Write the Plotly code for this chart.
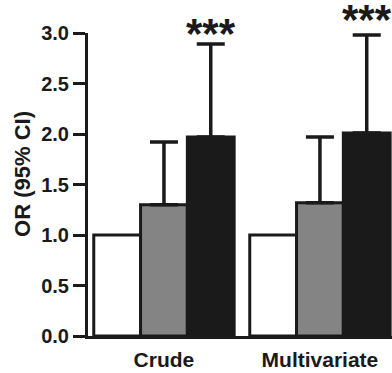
import plotly.graph_objects as go

categories = ["Crude", "Multivariate"]
ref_values = [1.0, 1.0]
mid_values = [1.30, 1.32]
high_values = [1.97, 2.01]
mid_upper = [1.92, 1.97]
high_upper = [2.89, 2.98]
sig_labels = ["***", "***"]
sig_y = [3.0, 3.13]
y_ticks = [0.0, 0.5, 1.0, 1.5, 2.0, 2.5, 3.0]
Y_MAX = 3.0

x_pos = list(range(len(categories)))
LINE = "#1a1a1a"
FONT = "Liberation Sans, Arial, sans-serif"

fig = go.Figure()
fig.add_bar(x=x_pos, y=ref_values, marker=dict(color="white", line=dict(color=LINE, width=3)))
fig.add_bar(x=x_pos, y=mid_values, marker=dict(color="#848484", line=dict(color=LINE, width=3)),
            error_y=dict(type="data", symmetric=False,
                         array=[u - v for u, v in zip(mid_upper, mid_values)],
                         arrayminus=[0] * len(mid_values),
                         color=LINE, thickness=3.5, width=14))
fig.add_bar(x=x_pos, y=high_values, marker=dict(color="#1a1a1a", line=dict(color=LINE, width=3)),
            error_y=dict(type="data", symmetric=False,
                         array=[u - v for u, v in zip(high_upper, high_values)],
                         arrayminus=[0] * len(high_values),
                         color=LINE, thickness=3.5, width=14))

for i, lab in enumerate(sig_labels):
    fig.add_annotation(x=x_pos[i] + 0.3, y=sig_y[i] / Y_MAX, yref="paper", xref="x",
                       text=lab, showarrow=False, yanchor="middle",
                       font=dict(size=42, family=FONT, color=LINE, weight="bold"))

fig.add_annotation(text="OR (95% CI)", textangle=-90, xref="paper", yref="paper",
                   x=(23 - 88) / 304, y=0.535, xanchor="center", yanchor="middle",
                   showarrow=False,
                   font=dict(size=22, family=FONT, color=LINE, weight="bold"))

fig.update_layout(
    width=392, height=373,
    margin=dict(l=88, r=0, t=33, b=37),
    plot_bgcolor="white", paper_bgcolor="white",
    barmode="group", bargap=0.1, bargroupgap=0,
    showlegend=False,
    font=dict(family=FONT, color=LINE),
)
fig.update_xaxes(range=[-0.487, 1.462], tickvals=x_pos, ticktext=categories,
                 showline=True, linecolor=LINE, linewidth=3, ticks="",
                 showgrid=False, zeroline=False, ticklabelstandoff=3,
                 tickfont=dict(size=21, family=FONT, color=LINE, weight="bold"))
fig.update_yaxes(range=[0, Y_MAX], tickvals=y_ticks, ticktext=[f"{t:.1f}" for t in y_ticks],
                 showline=True, linecolor=LINE, linewidth=3,
                 ticks="outside", ticklen=12, tickwidth=3, tickcolor=LINE,
                 showgrid=False, zeroline=False, ticklabelstandoff=0,
                 tickfont=dict(size=20, family=FONT, color=LINE, weight="bold"))

fig.write_html("out.html", config={"displayModeBar": False},
               post_script="document.body.style.margin='0';document.body.style.overflow='hidden';")
